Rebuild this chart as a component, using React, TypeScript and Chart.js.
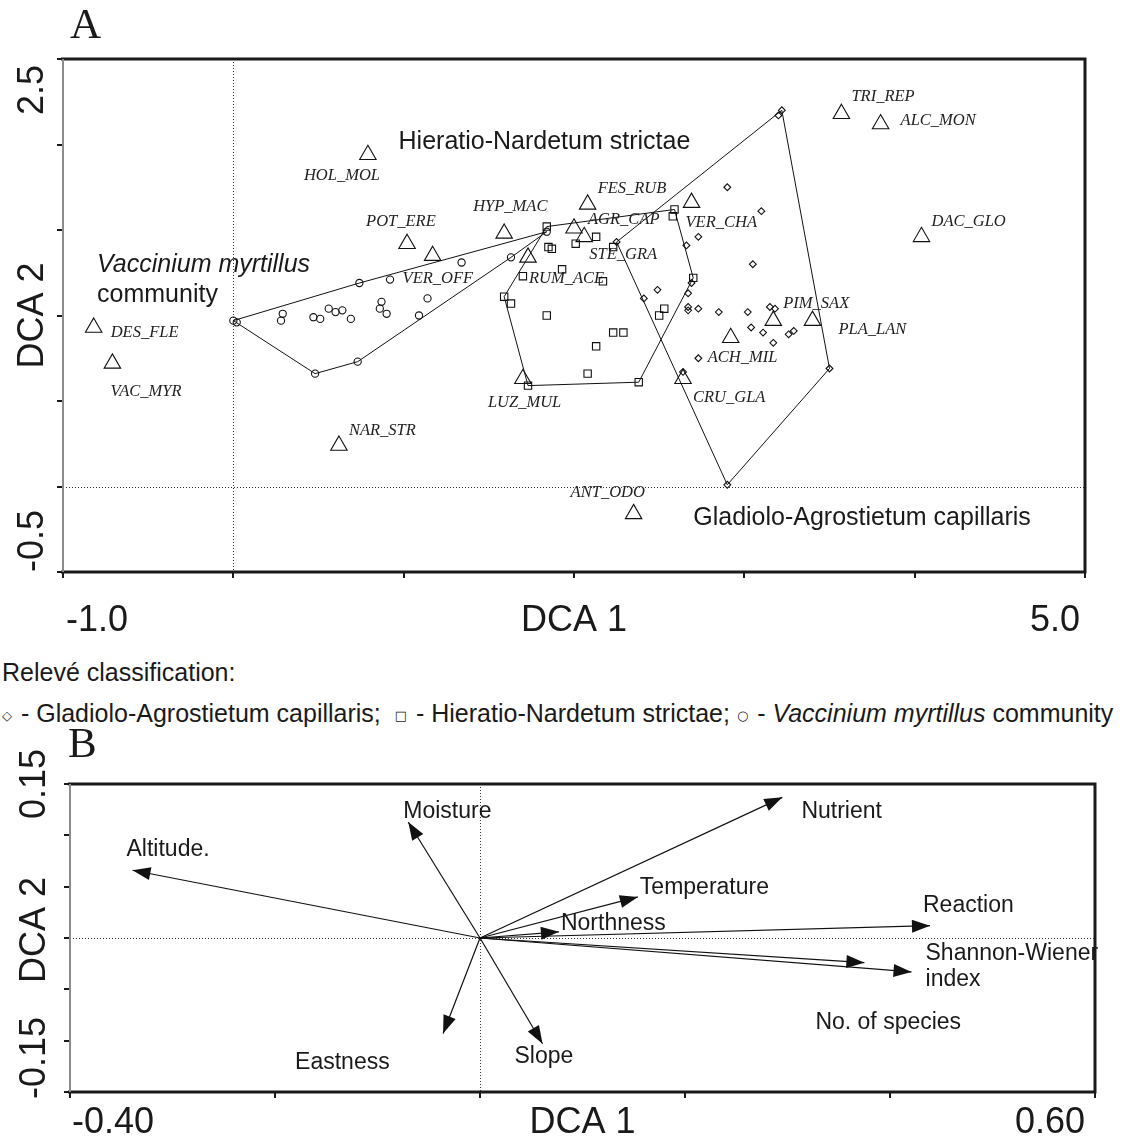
import React, { useEffect, useRef } from 'react';
import { Chart, registerables } from 'chart.js';
Chart.register(...registerables);

// ---------------- Panel A: DCA of relevés and species ----------------
// Relevés – Gladiolo-Agrostietum capillaris (diamonds)
const gladioloX = [3.22, 3.20, 2.90, 3.10, 2.73, 2.66, 2.25, 3.05, 2.69, 2.67, 2.49, 2.41, 2.67, 2.67, 2.73, 2.85, 3.02, 3.15, 3.18, 3.04, 3.11, 3.17, 3.26, 3.29, 2.73, 3.50, 2.64, 2.90];
const gladioloY = [2.20, 2.17, 1.75, 1.61, 1.46, 1.41, 1.43, 1.30, 1.19, 1.13, 1.15, 1.10, 1.05, 1.03, 1.04, 1.02, 1.02, 1.05, 1.04, 0.93, 0.90, 0.84, 0.89, 0.91, 0.75, 0.69, 0.67, 0.01];
// Relevés – Hieratio-Nardetum strictae (squares)
const hieratioX = [1.84, 2.59, 2.58, 2.13, 2.01, 1.85, 1.87, 2.23, 1.93, 1.70, 2.17, 2.70, 1.59, 1.63, 1.84, 2.53, 2.50, 2.23, 2.29, 2.13, 2.08, 1.73, 2.38];
const hieratioY = [1.52, 1.62, 1.58, 1.46, 1.42, 1.40, 1.39, 1.40, 1.27, 1.23, 1.20, 1.22, 1.11, 1.07, 1.00, 1.04, 1.00, 0.90, 0.90, 0.82, 0.66, 0.59, 0.61];
// Relevés – Vaccinium myrtillus community (circles)
const vacciniumX = [0.00, 0.02, 0.74, 0.92, 1.34, 0.29, 0.28, 0.47, 0.51, 0.56, 0.60, 0.64, 0.69, 0.87, 0.86, 0.90, 1.14, 1.09, 0.73, 0.48, 1.63, 1.84];
const vacciniumY = [0.97, 0.96, 1.19, 1.21, 1.31, 1.01, 0.97, 0.99, 0.98, 1.04, 1.02, 1.03, 0.98, 1.08, 1.04, 1.01, 1.10, 1.00, 0.73, 0.66, 1.34, 1.49];

// Species (triangles)
const speciesNames = ['DES_FLE', 'VAC_MYR', 'HOL_MOL', 'POT_ERE', 'VER_OFF', 'NAR_STR', 'HYP_MAC', 'FES_RUB', 'AGR_CAP', 'STE_GRA', 'RUM_ACE', 'VER_CHA', 'LUZ_MUL', 'CRU_GLA', 'ANT_ODO', 'ACH_MIL', 'PIM_SAX', 'PLA_LAN', 'TRI_REP', 'ALC_MON', 'DAC_GLO'];
const speciesX = [-0.82, -0.71, 0.79, 1.02, 1.17, 0.62, 1.59, 2.08, 2.00, 2.06, 1.73, 2.69, 1.70, 2.64, 2.35, 2.92, 3.17, 3.40, 3.57, 3.80, 4.04];
const speciesY = [0.93, 0.72, 1.94, 1.42, 1.35, 0.24, 1.48, 1.65, 1.51, 1.46, 1.34, 1.66, 0.63, 0.63, -0.16, 0.87, 0.97, 0.97, 2.18, 2.12, 1.46];

// Community names written in the plot (data coordinates of their left/middle)
const communityLabels = ['Hieratio-Nardetum strictae', 'Vaccinium myrtillus', 'community', 'Gladiolo-Agrostietum capillaris'];
const communityLabelX = [0.97, -0.80, -0.80, 2.70];
const communityLabelY = [2.015, 1.295, 1.12, -0.184];

// Axis texts
const aXEnds = ['-1.0', '5.0'];
const aYEnds = ['-0.5', '2.5'];
const aXTitle = 'DCA 1';
const aYTitle = 'DCA 2';

// Legend texts
const legendTitle = 'Relevé classification:';
const legendGroups = ['Gladiolo-Agrostietum capillaris;', 'Hieratio-Nardetum strictae;', 'Vaccinium myrtillus'];
const legendSymbols = ['◇', '□', '○'];

// ---------------- Panel B: environmental vectors ----------------
const envNames = ['Altitude.', 'Moisture', 'Eastness', 'Slope', 'Nutrient', 'Temperature', 'Northness', 'Reaction', 'Shannon-Wiener\nindex', 'No. of species'];
const envX = [-0.339, -0.070, -0.036, 0.061, 0.295, 0.154, 0.077, 0.439, 0.421, 0.375];
const envY = [0.066, 0.113, -0.093, -0.103, 0.137, 0.040, 0.006, 0.012, -0.033, -0.024];

const bXEnds = ['-0.40', '0.60'];
const bYEnds = ['-0.15', '0.15'];
const bXTitle = 'DCA 1';
const bYTitle = 'DCA 2';

// ---------------- styling (not data) ----------------
const FONT_SANS = '"Liberation Sans", Arial, Helvetica, sans-serif';
const FONT_SERIF = '"Liberation Serif", "Times New Roman", Times, serif';
const INK = '#1a1a1a';
const W = 1123;

// label offsets in pixels relative to the marker
const speciesLabelOffsets: [number, number][] = [
  [17, 5], [-2, 28], [-64, 21], [-41, -22], [-30, 23], [10, -15], [-31, -27], [10, -16], [14, -9], [5, 18],
  [1, 21], [-6, 20], [-35, 24], [10, 19], [-63, -21], [-23, 20], [10, -17], [26, 9], [10, -17], [20, -3], [10, -15],
];
const communityItalic = [false, true, false, false];
const envLabelOffsets: [number, number][] = [
  [-6, -21], [-5, -10], [-148, 29], [-28, 13], [19, 14], [2, -9], [2, -8], [-7, -20], [14, -18], [-49, 60],
];

function toPts(xs: number[], ys: number[]) {
  return xs.map((x, i) => ({ x, y: ys[i] }));
}

function convexHull(xs: number[], ys: number[]) {
  const pts = toPts(xs, ys).sort((a, b) => a.x - b.x || a.y - b.y);
  const cross = (o: any, a: any, b: any) => (a.x - o.x) * (b.y - o.y) - (a.y - o.y) * (b.x - o.x);
  const lower: any[] = [];
  for (const p of pts) {
    while (lower.length >= 2 && cross(lower[lower.length - 2], lower[lower.length - 1], p) <= 0) lower.pop();
    lower.push(p);
  }
  const upper: any[] = [];
  for (let i = pts.length - 1; i >= 0; i--) {
    const p = pts[i];
    while (upper.length >= 2 && cross(upper[upper.length - 2], upper[upper.length - 1], p) <= 0) upper.pop();
    upper.push(p);
  }
  lower.pop();
  upper.pop();
  const h = lower.concat(upper);
  h.push(h[0]);
  return h;
}

type FrameOpts = {
  xEnds: string[]; yEnds: string[]; xTitle: string; yTitle: string;
  panel: string; panelX: number; panelBase: number;
  xBase: number; yBase: number; leftInset: number; rightInset: number;
  topInset: number; topCentered: boolean; bottomShift: number; yTitleShift: number;
};

function framePlugin(opt: FrameOpts) {
  return {
    id: 'frameAxes',
    beforeDatasetsDraw(chart: any) {
      const { ctx, chartArea: a, scales } = chart;
      const x0 = Math.round(scales.x.getPixelForValue(0)) + 0.5;
      const y0 = Math.round(scales.y.getPixelForValue(0)) + 0.5;
      ctx.save();
      ctx.strokeStyle = '#333';
      ctx.lineWidth = 1;
      ctx.setLineDash([1, 2]);
      ctx.beginPath();
      ctx.moveTo(x0, a.top);
      ctx.lineTo(x0, a.bottom);
      ctx.moveTo(a.left, y0);
      ctx.lineTo(a.right, y0);
      ctx.stroke();
      ctx.restore();
    },
    afterDraw(chart: any) {
      const { ctx, chartArea: a, scales } = chart;
      const xs = scales.x, ys = scales.y;
      ctx.save();
      ctx.setLineDash([]);
      ctx.strokeStyle = INK;
      ctx.lineWidth = 3;
      ctx.beginPath();
      ctx.moveTo(a.left - 2, a.top);
      ctx.lineTo(a.right, a.top);
      ctx.lineTo(a.right, a.bottom);
      ctx.lineTo(a.left - 2, a.bottom);
      ctx.stroke();
      ctx.strokeStyle = '#8c8c8c';
      ctx.lineWidth = 2;
      ctx.beginPath();
      ctx.moveTo(a.left, a.top);
      ctx.lineTo(a.left, a.bottom);
      ctx.stroke();

      ctx.fillStyle = INK;
      ctx.font = `36px ${FONT_SANS}`;
      ctx.textBaseline = 'alphabetic';
      ctx.textAlign = 'left';
      ctx.fillText(opt.xEnds[0], xs.getPixelForValue(xs.min) + opt.leftInset, opt.xBase);
      ctx.textAlign = 'right';
      ctx.fillText(opt.xEnds[1], xs.getPixelForValue(xs.max) - opt.rightInset, opt.xBase);
      ctx.textAlign = 'center';
      ctx.fillText(opt.xTitle, xs.getPixelForValue((xs.min + xs.max) / 2), opt.xBase);

      const rot = (text: string, y: number, align: CanvasTextAlign) => {
        ctx.save();
        ctx.translate(opt.yBase, y);
        ctx.rotate(-Math.PI / 2);
        ctx.textAlign = align;
        ctx.fillText(text, 0, 0);
        ctx.restore();
      };
      rot(opt.yEnds[0], ys.getPixelForValue(ys.min) + opt.bottomShift, 'left');
      if (opt.topCentered) rot(opt.yEnds[1], ys.getPixelForValue(ys.max), 'center');
      else rot(opt.yEnds[1], ys.getPixelForValue(ys.max) + opt.topInset, 'right');
      rot(opt.yTitle, ys.getPixelForValue((ys.min + ys.max) / 2) + opt.yTitleShift, 'center');

      ctx.font = `43px ${FONT_SERIF}`;
      ctx.textAlign = 'left';
      ctx.fillText(opt.panel, opt.panelX, opt.panelBase);
      ctx.restore();
    },
  };
}

function axis(min: number, max: number, step: number, fit: (s: any) => void) {
  return {
    type: 'linear' as const,
    min,
    max,
    ticks: { stepSize: step, display: false },
    grid: { display: true, drawOnChartArea: false, drawTicks: true, tickLength: 6, color: INK, lineWidth: 2 },
    border: { display: false },
    afterFit: fit,
  };
}

function pointSet(xs: number[], ys: number[], style: string, radius: number) {
  return {
    data: toPts(xs, ys),
    showLine: false,
    pointStyle: style,
    pointRadius: radius,
    pointHoverRadius: radius,
    pointBorderWidth: 1.1,
    pointBorderColor: '#111',
    pointBackgroundColor: 'rgba(0,0,0,0)',
  };
}

function hullSet(xs: number[], ys: number[]) {
  return {
    data: convexHull(xs, ys),
    showLine: true,
    pointRadius: 0,
    pointHoverRadius: 0,
    borderColor: '#111',
    borderWidth: 1,
    fill: false,
    tension: 0,
  };
}

const A_H = 645;
function configA(): any {
  const labels = {
    id: 'speciesLabels',
    afterDatasetsDraw(chart: any) {
      const { ctx, scales } = chart;
      const x = scales.x, y = scales.y;
      ctx.save();
      ctx.fillStyle = '#222';
      ctx.textBaseline = 'middle';
      ctx.textAlign = 'left';
      ctx.font = `italic 16.5px ${FONT_SERIF}`;
      speciesNames.forEach((n, i) => {
        const [dx, dy] = speciesLabelOffsets[i];
        ctx.fillText(n, x.getPixelForValue(speciesX[i]) + dx, y.getPixelForValue(speciesY[i]) + dy);
      });
      communityLabels.forEach((t, i) => {
        ctx.font = `${communityItalic[i] ? 'italic ' : ''}25px ${FONT_SANS}`;
        ctx.fillStyle = INK;
        ctx.fillText(t, x.getPixelForValue(communityLabelX[i]), y.getPixelForValue(communityLabelY[i]));
      });
      ctx.restore();
    },
  };
  return {
    type: 'scatter',
    data: {
      datasets: [
        hullSet(gladioloX, gladioloY),
        hullSet(hieratioX, hieratioY),
        hullSet(vacciniumX, vacciniumY),
        pointSet(gladioloX, gladioloY, 'rectRot', 3.4),
        pointSet(hieratioX, hieratioY, 'rect', 5.2),
        pointSet(vacciniumX, vacciniumY, 'circle', 3.6),
        pointSet(speciesX, speciesY, 'triangle', 9.5),
      ],
    },
    options: {
      animation: false,
      responsive: false,
      devicePixelRatio: 1,
      events: [],
      layout: { padding: { top: 59, right: W - 1085, left: 0, bottom: 0 } },
      plugins: { legend: { display: false }, tooltip: { enabled: false } },
      scales: {
        x: axis(-1, 5, 1, (s) => { s.height = A_H - 572; }),
        y: axis(-0.5, 2.5, 0.5, (s) => { s.width = 63; }),
      },
    },
    plugins: [
      labels,
      framePlugin({
        xEnds: aXEnds, yEnds: aYEnds, xTitle: aXTitle, yTitle: aYTitle,
        panel: 'A', panelX: 70, panelBase: 38, xBase: 631, yBase: 43,
        leftInset: 3, rightInset: 5, topInset: 6, topCentered: false, bottomShift: 0, yTitleShift: 0,
      }),
    ],
  };
}

const B_TOP = 720;
const B_H = 1146 - B_TOP;
function configB(): any {
  const arrows = {
    id: 'arrowHeads',
    afterDatasetsDraw(chart: any) {
      const { ctx, scales } = chart;
      const x = scales.x, y = scales.y;
      const ox = x.getPixelForValue(0), oy = y.getPixelForValue(0);
      ctx.save();
      ctx.fillStyle = '#111';
      envNames.forEach((n, i) => {
        const tx = x.getPixelForValue(envX[i]);
        const ty = y.getPixelForValue(envY[i]);
        const ang = Math.atan2(ty - oy, tx - ox);
        const L = 18, H = 6.5;
        const c = Math.cos(ang), s = Math.sin(ang);
        ctx.beginPath();
        ctx.moveTo(tx, ty);
        ctx.lineTo(tx - L * c + H * s, ty - L * s - H * c);
        ctx.lineTo(tx - L * c - H * s, ty - L * s + H * c);
        ctx.closePath();
        ctx.fill();
      });
      ctx.font = `23px ${FONT_SANS}`;
      ctx.textBaseline = 'middle';
      ctx.textAlign = 'left';
      ctx.fillStyle = INK;
      envNames.forEach((n, i) => {
        const [dx, dy] = envLabelOffsets[i];
        const tx = x.getPixelForValue(envX[i]) + dx;
        const ty = y.getPixelForValue(envY[i]) + dy;
        n.split('\n').forEach((line, k) => ctx.fillText(line, tx, ty + k * 26));
      });
      ctx.restore();
    },
  };
  return {
    type: 'scatter',
    data: {
      datasets: envNames.map((n, i) => ({
        label: n,
        data: [{ x: 0, y: 0 }, { x: envX[i], y: envY[i] }],
        showLine: true,
        pointRadius: 0,
        pointHoverRadius: 0,
        borderColor: '#111',
        borderWidth: 1.2,
        fill: false,
      })),
    },
    options: {
      animation: false,
      responsive: false,
      devicePixelRatio: 1,
      events: [],
      layout: { padding: { top: 784 - B_TOP, right: W - 1095, left: 0, bottom: 0 } },
      plugins: { legend: { display: false }, tooltip: { enabled: false } },
      scales: {
        x: axis(-0.4, 0.6, 0.2, (s) => { s.height = B_H - (1092 - B_TOP); }),
        y: axis(-0.15, 0.15, 0.05, (s) => { s.width = 70; }),
      },
    },
    plugins: [
      arrows,
      framePlugin({
        xEnds: bXEnds, yEnds: bYEnds, xTitle: bXTitle, yTitle: bYTitle,
        panel: 'B', panelX: 68, panelBase: 757 - B_TOP, xBase: 1133 - B_TOP, yBase: 45,
        leftInset: 2, rightInset: 10, topInset: 0, topCentered: true, bottomShift: 7, yTitleShift: -8,
      }),
    ],
  };
}

function ChartCanvas({ top, height, make }: { top: number; height: number; make: () => any }) {
  const ref = useRef<HTMLCanvasElement>(null);
  useEffect(() => {
    const chart = new Chart(ref.current as HTMLCanvasElement, make());
    return () => chart.destroy();
  }, []);
  return (
    <canvas
      ref={ref}
      width={W}
      height={height}
      style={{ position: 'absolute', left: 0, top, width: W, height, display: 'block' }}
    />
  );
}

const legendText = (top: number): React.CSSProperties => ({
  position: 'absolute',
  left: 2,
  top,
  font: `25px ${FONT_SANS}`,
  lineHeight: '25px',
  whiteSpace: 'nowrap',
  color: INK,
});
const sym: React.CSSProperties = {
  fontFamily: '"DejaVu Sans", sans-serif',
  fontSize: 13,
  verticalAlign: 2,
  marginRight: 2,
};

export default function App() {
  return (
    <div style={{ position: 'absolute', left: 0, top: 0, width: W, height: 1146, background: '#fff', overflow: 'hidden' }}>
      <ChartCanvas top={0} height={A_H} make={configA} />
      <div style={legendText(660)}>{legendTitle}</div>
      <div style={legendText(701)}>
        <span style={sym}>{legendSymbols[0]}</span> - {legendGroups[0]}&nbsp; <span style={sym}>{legendSymbols[1]}</span> - {legendGroups[1]} <span style={sym}>{legendSymbols[2]}</span> - <i>{legendGroups[2]}</i> community
      </div>
      <ChartCanvas top={B_TOP} height={B_H} make={configB} />
    </div>
  );
}
